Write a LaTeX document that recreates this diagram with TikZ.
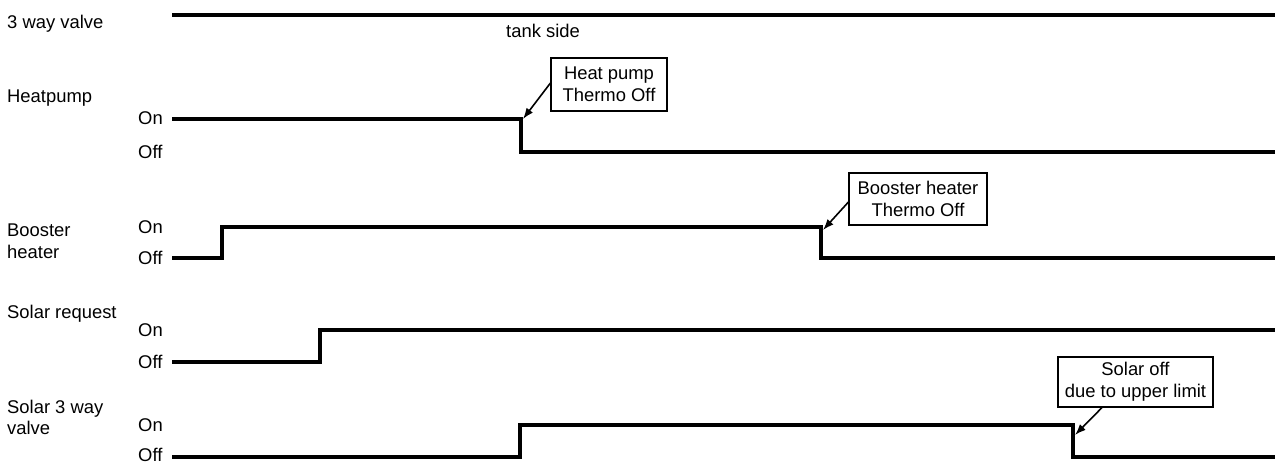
\documentclass[tikz,border=0pt]{standalone}
\usepackage{fontspec}
\setmainfont{Liberation Sans}
\usetikzlibrary{arrows.meta}
\begin{document}
\begin{tikzpicture}[x=1pt,y=-1pt,
  lbl/.style={anchor=base west,inner sep=0pt,font=\fontsize{18.4}{22}\selectfont},
  sig/.style={line width=4.5pt,line join=miter},
  callout/.style={draw,line width=1.1pt,inner sep=0pt,align=center,font=\fontsize{18.4}{22}\selectfont},
  pointer/.style={line width=1.6pt,-{Latex[length=11pt,width=8pt]}}]
\useasboundingbox (0,0) rectangle (1275,463);
% left labels
\node[lbl] (l1) at (7,28) {3 way valve};
\node[lbl] (l2) at (7,102) {Heatpump};
\node[lbl] (l3a) at (7,236) {Booster};
\node[lbl] (l3b) at (7,258) {heater};
\node[lbl] (l4) at (7,318) {Solar request};
\node[lbl] (l5a) at (7,413) {Solar 3 way};
\node[lbl] (l5b) at (7,434) {valve};
% On / Off
\node[lbl] (on2) at (138,124) {On};
\node[lbl] (off2) at (138,158) {Off};
\node[lbl] (on3) at (138,233) {On};
\node[lbl] (off3) at (138,264) {Off};
\node[lbl] (on4) at (138,336) {On};
\node[lbl] (off4) at (138,368) {Off};
\node[lbl] (on5) at (138,431) {On};
\node[lbl] (off5) at (138,461.5) {Off};
\node[anchor=base,inner sep=0pt,font=\fontsize{18.4}{22}\selectfont] (tank) at (543,37) {tank side};
% signals
\draw[sig] (172,15) -- (1275,15);
\draw[sig] (172,119) -- (521,119) -- (521,152) -- (1275,152);
\draw[sig] (172,258) -- (222,258) -- (222,227) -- (821,227) -- (821,258) -- (1275,258);
\draw[sig] (172,362) -- (320,362) -- (320,330) -- (1275,330);
\draw[sig] (172,457) -- (520,457) -- (520,425) -- (1073,425) -- (1073,457) -- (1275,457);
% step corners
\coordinate (hpstep) at (523,119);
\coordinate (bhstep) at (823,230);
\coordinate (svstep) at (1075,435);
% callouts
\node[callout,minimum width=116pt,minimum height=53pt] (hpbox) at (609,84.5) {Heat pump\\Thermo Off};
\node[callout,minimum width=138pt,minimum height=52pt] (bhbox) at (918,199) {Booster heater\\Thermo Off};
\node[callout,minimum width=155pt,minimum height=50pt] (svbox) at (1135.5,382) {Solar off\\due to upper limit};
\draw[pointer] (hpbox.west |- 0,83) -- (hpstep);
\draw[pointer] (bhbox.west |- 0,202) -- (bhstep);
\draw[pointer] (svbox.south -| 1102,0) -- (svstep);
\end{tikzpicture}
\end{document}
